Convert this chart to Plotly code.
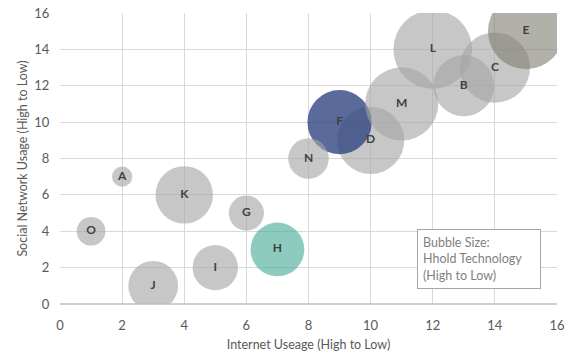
import plotly.graph_objects as go

labels = ["A", "B", "C", "D", "E", "F", "G", "H", "I", "J", "K", "L", "M", "N", "O"]
internet = [2, 13, 14, 10, 15, 9, 6, 7, 5, 3, 4, 12, 11, 8, 1]
social = [7, 12, 13, 9, 15, 10, 5, 3, 2, 1, 6, 14, 11, 8, 4]
hhold_tech = [1, 9, 12, 11, 14, 10, 3, 7, 5, 6, 8, 15, 13, 4, 2]

x_ticks = [0, 2, 4, 6, 8, 10, 12, 14, 16]
y_ticks = [0, 2, 4, 6, 8, 10, 12, 14, 16]

gray = "rgba(165,165,165,0.62)"
special = {"E": "rgba(125,123,112,0.6)", "F": "rgba(47,69,130,0.8)", "H": "rgba(71,171,152,0.62)"}
colors = [special.get(l, gray) for l in labels]

fig = go.Figure()
fig.add_trace(go.Scatter(
    x=internet, y=social, mode="markers+text", text=labels,
    textposition="middle center",
    textfont=dict(family="Lato", size=12, color="#404040", weight="bold"),
    marker=dict(size=hhold_tech, sizemode="area", sizeref=1 / (2 * 100 * 1.03),
                color=colors, opacity=1, line=dict(width=0)),
    hoverinfo="skip", showlegend=False, cliponaxis=True,
))

axis_common = dict(showgrid=True, gridcolor="#D9D9D9", gridwidth=1, zeroline=False,
                   tickfont=dict(family="Lato", size=13, color="#595959"),
                   ticks="outside", tickcolor="rgba(0,0,0,0)", showline=False,
                   automargin=False, ticklabeloverflow="allow")
fig.update_xaxes(range=[0, 16], tickvals=x_ticks, ticklen=9, **axis_common,
                 title=dict(text="Internet Useage (High to Low)", standoff=8,
                            font=dict(family="Lato", size=12.5, color="#595959")))
fig.update_yaxes(range=[0, 16], tickvals=y_ticks, ticklen=7, **axis_common,
                 title=dict(text="Social Network Usage (High to Low)", standoff=3,
                            font=dict(family="Lato", size=12.5, color="#595959")))

fig.add_shape(type="line", xref="paper", yref="paper", x0=0, x1=1, y0=0, y1=0,
              line=dict(color="#BFBFBF", width=1.5))

fig.add_annotation(xref="x", yref="y", x=11.49, y=4.12, xanchor="left", yanchor="top",
                   text="Bubble Size:<br>Hhold Technology<br>(High to Low)", align="left",
                   showarrow=False, bgcolor="white", bordercolor="#A6A6A6", borderwidth=1,
                   borderpad=5, width=112,
                   font=dict(family="Lato", size=12.5, color="#7F7F7F"))

fig.update_layout(width=570, height=354, margin=dict(l=60, r=13, t=13, b=50),
                  plot_bgcolor="white", paper_bgcolor="white")

# remove the browser's default 8px body margin so the figure sits at the page origin
fig.write_html("out.html", post_script="document.body.style.margin='0';",
               config={"displayModeBar": False})
